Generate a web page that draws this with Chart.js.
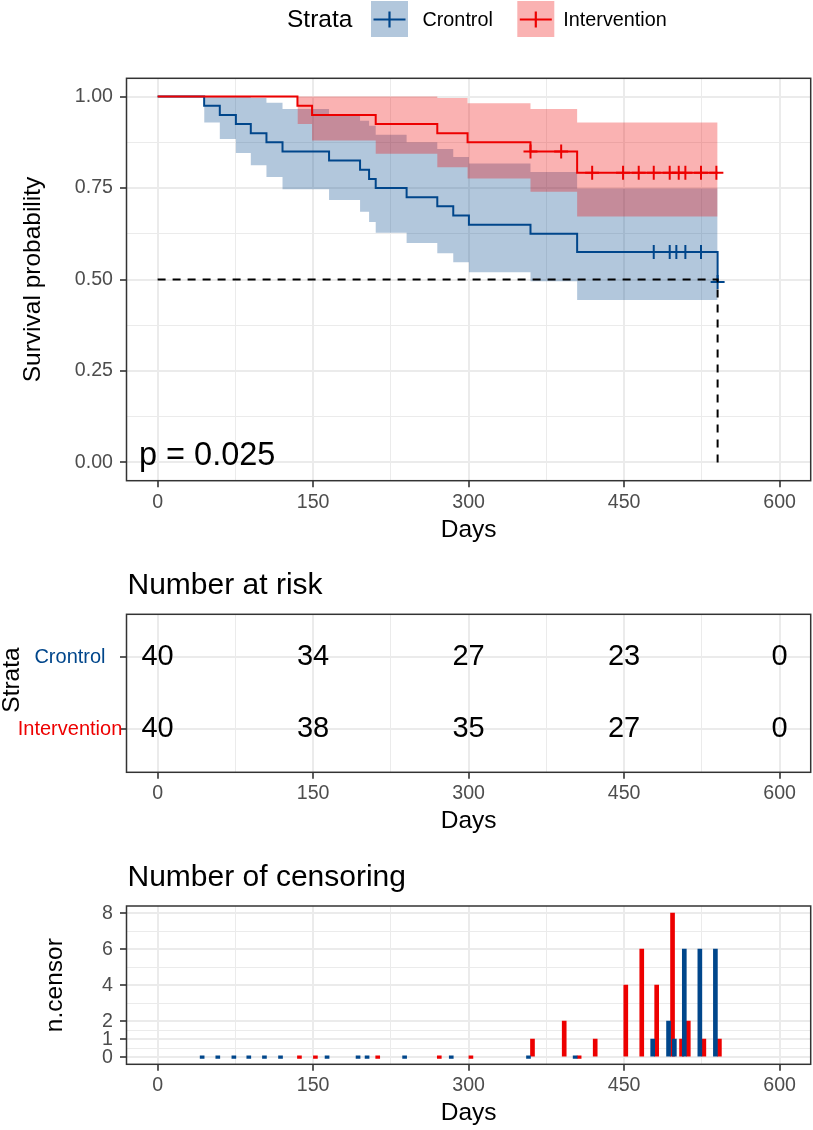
<!DOCTYPE html>
<html>
<head>
<meta charset="utf-8">
<title>Survival curves</title>
<script src="https://cdn.jsdelivr.net/npm/chart.js@4.4.1/dist/chart.umd.min.js"></script>
<style>
    html, body { margin: 0; padding: 0; background: #fff; }
    #wrap  { position: relative; width: 813px; height: 1130px; overflow: hidden; }
    .panel { position: absolute; left: 0; width: 813px; }
</style>
</head>
<body>
<div id="wrap">
    <div class="panel" style="top:0;height:560px"><canvas id="kmChart"></canvas></div>
    <div class="panel" style="top:560px;height:290px"><canvas id="riskChart"></canvas></div>
    <div class="panel" style="top:850px;height:280px"><canvas id="censChart"></canvas></div>
</div>
<script>
const BLUE      = '#00468B';
const RED       = '#ED0000';
const BLUE_BAND = 'rgba(0,70,139,0.3)';
const RED_BAND  = 'rgba(237,0,0,0.3)';
const FONT      = '"Liberation Sans", Arial, Helvetica, sans-serif';
const TICK_TEXT = '#4d4d4d';
const GRID_COL  = '#ebebeb';
const FRAME_COL = '#333333';

const strata     = ['Crontrol', 'Intervention'];
const timeBreaks = [0, 150, 300, 450, 600];
const timeMinor  = [75, 225, 375, 525];
const survBreaks = [0, 0.25, 0.5, 0.75, 1];
const survMinor  = [0.125, 0.375, 0.625, 0.875];
const censBreaks = [0, 1, 2, 4, 6, 8];
const censMinor  = [0.5, 1.5, 3, 5, 7];

// Kaplan-Meier steps, control
const ctrlTime = [0, 44.9, 60, 75.5, 89.9, 105, 120.5, 165.4, 195.3, 204, 210.4, 240.2, 269.8, 285.2, 300.3, 359.7, 404.7, 540.2];
const ctrlSurv = [1, 0.975, 0.95, 0.925, 0.9, 0.875, 0.85, 0.825, 0.8, 0.775, 0.75, 0.725, 0.7, 0.675, 0.65, 0.625, 0.575, 0.493];
const ctrlBandTime = [44.9, 60, 75.5, 89.9, 105, 120.5, 165.4, 195.3, 204, 210.4, 240.2, 269.8, 285.2, 300.3, 359.7, 404.7, 540.2];
const ctrlUpper    = [1, 1, 1, 0.996, 0.983, 0.966, 0.948, 0.934, 0.92, 0.896, 0.875, 0.857, 0.835, 0.817, 0.794, 0.749, 0.749];
const ctrlLower    = [0.929, 0.884, 0.846, 0.812, 0.78, 0.747, 0.717, 0.685, 0.657, 0.628, 0.6, 0.572, 0.547, 0.52, 0.495, 0.444, 0.444];
const ctrlCensTime = [478.6, 494, 500.4, 509.1, 524.2, 540.2];

// Kaplan-Meier steps, intervention
const intvTime = [0, 134.9, 149, 210.4, 269.8, 299, 359.7, 404.7, 540.2];
const intvSurv = [1, 0.975, 0.95, 0.925, 0.9, 0.875, 0.85, 0.792, 0.792];
const intvBandTime = [134.9, 149, 210.4, 269.8, 299, 359.7, 404.7, 540.2];
const intvUpper    = [1, 1, 1, 0.996, 0.982, 0.966, 0.929, 0.929];
const intvLower    = [0.925, 0.88, 0.844, 0.807, 0.776, 0.74, 0.672, 0.672];
const intvCensTime = [359.7, 389.3, 419.2, 449, 464.1, 478.6, 494, 502.7, 509.1, 524.2, 539];

const medianSurv = 0.5;
const medianTime = 540.2;
const pValue     = 'p = 0.025';
const pValueAt   = [-18, -0.008];

// number at risk at timeBreaks
const riskCtrl = [40, 34, 27, 23, 0];
const riskIntv = [40, 38, 35, 27, 0];

// number of censoring
const ctrlNcTime  = [44.9, 60, 75.5, 89.9, 105, 120.5, 165.4, 195.3, 204, 240.2, 285.2, 359.7, 404.7, 479.5, 494.8, 500.4, 510, 525, 540];
const ctrlNcCount = [0, 0, 0, 0, 0, 0, 0, 0, 0, 0, 0, 0, 0, 1, 2, 1, 6, 6, 6];
const intvNcTime  = [134.9, 150.3, 210.4, 269.8, 300.3, 359.7, 390.3, 404.7, 420.2, 449.7, 465.1, 479.5, 494.8, 503.5, 510, 525, 540];
const intvNcCount = [0, 0, 0, 0, 0, 1, 2, 0, 1, 4, 6, 4, 8, 1, 2, 1, 1];


function pts(xs, ys) {
    return xs.map((x, i) => ({ x, y: ys[i] }));
}

function survAt(times, surv, t) {
    let s = surv[0];
    times.forEach((tt, i) => { if (tt <= t) s = surv[i]; });
    return s;
}

function isMajor(list, v) {
    return list.some(m => Math.abs(m - v) < 1e-9);
}

function axis(major, minor, min, max, fitSize, horizontal, fmt) {
    const all = [...major, ...minor].sort((a, b) => a - b);
    const major_ = c => c.tick && isMajor(major, c.tick.value);
    return {
        type: 'linear', min, max, offset: false,
        afterBuildTicks: s => { s.ticks = all.map(value => ({ value })); },
        afterFit: s => { if (horizontal) s.height = fitSize; else s.width = fitSize; },
        ticks: {
            autoSkip: false, maxRotation: 0, minRotation: 0,
            padding: horizontal ? 3.5 : 7,
            color: TICK_TEXT,
            font: { family: FONT, size: 19.6 },
            callback: v => isMajor(major, v) ? fmt(v) : ''
        },
        grid: {
            offset: false,
            color: GRID_COL,
            lineWidth: c => major_(c) ? 2 : 1,
            tickLength: 6.5,
            tickWidth: c => major_(c) ? 1.6 : 0,
            tickColor: c => major_(c) ? FRAME_COL : 'transparent'
        },
        border: { display: false }
    };
}

function drawText(ctx, str, x, y, o = {}) {
    ctx.save();
    ctx.font = `${o.size || 24}px ${FONT}`;
    ctx.fillStyle = o.color || '#000';
    ctx.textAlign = o.align || 'center';
    ctx.textBaseline = o.baseline || 'alphabetic';
    ctx.translate(x, y);
    if (o.rotate) ctx.rotate(o.rotate);
    ctx.fillText(str, 0, 0);
    ctx.restore();
}

function legendKey(ctx, left, line, band) {
    const w = 37, top = 1, h = 36, cy = 19.5;
    ctx.save();
    ctx.fillStyle = band;
    ctx.fillRect(left, top, w, h);
    ctx.strokeStyle = line;
    ctx.lineWidth = 2.2;
    ctx.beginPath();
    ctx.moveTo(left + 2.5, cy);     ctx.lineTo(left + w - 2.5, cy);
    ctx.moveTo(left + w / 2, cy - 8); ctx.lineTo(left + w / 2, cy + 8);
    ctx.stroke();
    ctx.restore();
}

const framePlugin = {
    id: 'frame',
    afterDatasetsDraw(chart) {
        const { ctx, chartArea: a } = chart;
        ctx.save();
        ctx.strokeStyle = FRAME_COL;
        ctx.lineWidth = 1.5;
        ctx.strokeRect(a.left, a.top, a.right - a.left, a.bottom - a.top);
        ctx.restore();
    }
};

const baseOptions = (padding) => ({
    responsive: true,
    maintainAspectRatio: false,
    animation: false,
    events: [],
    layout: { padding, autoPadding: false },
    plugins: { legend: { display: false }, tooltip: { enabled: false }, title: { display: false } }
});


// ---- survival curves ----
const kmText = {
    id: 'kmText',
    afterDraw(chart) {
        const { ctx, chartArea: a, scales: { x, y } } = chart;
        drawText(ctx, 'Days', (a.left + a.right) / 2, a.bottom + 56, { size: 24.5 });
        drawText(ctx, 'Survival probability', 33, (a.top + a.bottom) / 2,
            { size: 24.5, baseline: 'middle', rotate: -Math.PI / 2 });
        drawText(ctx, pValue, x.getPixelForValue(pValueAt[0]), y.getPixelForValue(pValueAt[1]),
            { size: 32.5, align: 'left' });

        drawText(ctx, 'Strata', 287, 20.5, { size: 24.5, align: 'left', baseline: 'middle' });
        legendKey(ctx, 371, BLUE, BLUE_BAND);
        drawText(ctx, strata[0], 422.5, 20.5, { size: 19.8, align: 'left', baseline: 'middle' });
        legendKey(ctx, 517.3, RED, RED_BAND);
        drawText(ctx, strata[1], 563.3, 20.5, { size: 19.8, align: 'left', baseline: 'middle' });
    }
};

const bandEdge = (data, fill, bg, order) => ({
    data, fill, order,
    backgroundColor: bg,
    borderColor: 'transparent',
    borderWidth: 0,
    stepped: 'before',
    pointRadius: 0
});

const stepLine = (data, color, order) => ({
    data, order,
    borderColor: color,
    borderWidth: 2,
    stepped: 'before',
    pointRadius: 0,
    fill: false
});

const censMarks = (times, survT, survS, color, order) => ({
    data: times.map(t => ({ x: t, y: survAt(survT, survS, t) })),
    order,
    showLine: false,
    pointStyle: 'cross',
    pointRadius: 7,
    pointHoverRadius: 7,
    pointBorderWidth: 2,
    pointBorderColor: color,
    borderColor: color
});

new Chart(document.getElementById('kmChart'), {
    type: 'line',
    data: {
        datasets: [
            bandEdge(pts(ctrlBandTime, ctrlUpper), false, BLUE_BAND, 6),
            bandEdge(pts(ctrlBandTime, ctrlLower), '-1', BLUE_BAND, 6),
            bandEdge(pts(intvBandTime, intvUpper), false, RED_BAND, 5),
            bandEdge(pts(intvBandTime, intvLower), '-1', RED_BAND, 5),
            stepLine(pts(ctrlTime, ctrlSurv), BLUE, 4),
            stepLine(pts(intvTime, intvSurv), RED, 3),
            censMarks(ctrlCensTime, ctrlTime, ctrlSurv, BLUE, 2),
            censMarks(intvCensTime, intvTime, intvSurv, RED, 1),
            {
                data: [
                    { x: 0, y: medianSurv },
                    { x: medianTime, y: medianSurv },
                    { x: medianTime, y: 0 }
                ],
                order: 0,
                borderColor: '#000',
                borderWidth: 2,
                borderDash: [8, 7],
                pointRadius: 0,
                fill: false
            }
        ]
    },
    options: Object.assign(baseOptions({ top: 78.3, right: 2.3, left: 0, bottom: 0 }), {
        scales: {
            x: axis(timeBreaks, timeMinor, -30, 630, 79.3, true, v => String(v)),
            y: axis(survBreaks, survMinor, -0.05, 1.05, 126.5, false, v => v.toFixed(2))
        }
    }),
    plugins: [framePlugin, kmText]
});


// ---- number at risk ----
const riskText = {
    id: 'riskText',
    afterDraw(chart) {
        const { ctx, chartArea: a, scales: { x, y } } = chart;
        drawText(ctx, 'Number at risk', a.left + 1, 34, { size: 30, align: 'left' });
        drawText(ctx, 'Days', (a.left + a.right) / 2, a.bottom + 56, { size: 24.5 });
        drawText(ctx, 'Strata', 12, 120, { size: 24.5, baseline: 'middle', rotate: -Math.PI / 2 });
        [riskCtrl, riskIntv].forEach((row, r) => {
            row.forEach((n, i) => {
                drawText(ctx, String(n), x.getPixelForValue(timeBreaks[i]), y.getPixelForValue(r + 1),
                    { size: 29, baseline: 'middle' });
            });
        });
    }
};

const riskY = {
    type: 'linear', min: 0.4, max: 2.6, reverse: true,
    afterBuildTicks: s => { s.ticks = strata.map((_, i) => ({ value: i + 1 })); },
    afterFit: s => { s.width = 126.5; },
    ticks: {
        autoSkip: false,
        crossAlign: 'center',
        padding: -2.25,
        font: { family: FONT, size: 20 },
        color: c => (c.index === 0 ? BLUE : RED),
        callback: v => strata[Math.round(v) - 1]
    },
    grid: { color: GRID_COL, lineWidth: 2, tickLength: 6.5, tickWidth: 1.6, tickColor: FRAME_COL },
    border: { display: false }
};

new Chart(document.getElementById('riskChart'), {
    type: 'scatter',
    data: { datasets: [] },
    options: Object.assign(baseOptions({ top: 54.3, right: 2.3, left: 0, bottom: 0 }), {
        scales: {
            x: axis(timeBreaks, timeMinor, -30, 630, 77.7, true, v => String(v)),
            y: riskY
        }
    }),
    plugins: [framePlugin, riskText]
});


// ---- number of censoring ----
const censText = {
    id: 'censText',
    afterDraw(chart) {
        const { ctx, chartArea: a } = chart;
        drawText(ctx, 'Number of censoring', a.left + 1, 36, { size: 30, align: 'left' });
        drawText(ctx, 'Days', (a.left + a.right) / 2, a.bottom + 56, { size: 24.5 });
        drawText(ctx, 'n.censor', 55, (a.top + a.bottom) / 2, { size: 24.5, baseline: 'middle', rotate: -Math.PI / 2 });
    }
};

const censBars = (xs, ys, color) => ({
    data: pts(xs, ys),
    backgroundColor: color,
    borderWidth: 0,
    barThickness: 4,
    minBarLength: 2.5,
    grouped: true
});

new Chart(document.getElementById('censChart'), {
    type: 'bar',
    data: {
        datasets: [
            censBars(ctrlNcTime, ctrlNcCount, BLUE),
            censBars(intvNcTime, intvNcCount, RED)
        ]
    },
    options: Object.assign(baseOptions({ top: 56, right: 2.3, left: 0, bottom: 0 }), {
        scales: {
            x: axis(timeBreaks, timeMinor, -30, 630, 65.7, true, v => String(v)),
            y: axis(censBreaks, censMinor, -0.4, 8.4, 126.5, false, v => String(v))
        }
    }),
    plugins: [framePlugin, censText]
});
</script>
</body>
</html>
